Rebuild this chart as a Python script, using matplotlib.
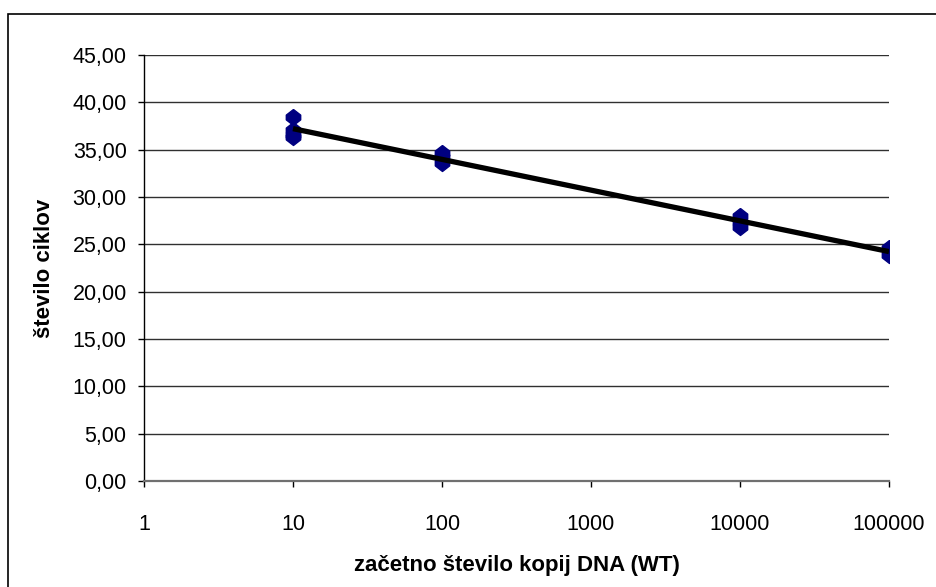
import numpy as np
import matplotlib
matplotlib.use("Agg")
import matplotlib.pyplot as plt
from matplotlib.patches import Rectangle
from matplotlib.ticker import FixedLocator, FuncFormatter

plt.rcParams['font.family'] = ['Liberation Sans', 'DejaVu Sans']

# Starting copy number of DNA (WT) and measured cycle counts (replicates)
copies = [10, 10, 10, 10, 100, 100, 100, 10000, 10000, 10000, 100000, 100000]
cycles = [38.5, 37.1, 36.6, 36.3, 34.7, 34.2, 33.6, 28.0, 27.4, 26.8, 24.6, 23.9]

x_ticks = [1, 10, 100, 1000, 10000, 100000]
y_ticks = [0, 5, 10, 15, 20, 25, 30, 35, 40, 45]

x_label = "začetno število kopij DNA (WT)"
y_label = "število ciklov"

fig = plt.figure(figsize=(9.36, 5.87), dpi=100)
ax = fig.add_axes([144 / 936, 1 - 481 / 587, 745 / 936, 426 / 587])

# Outer chart-area border
fig.patches.append(Rectangle((8 / 936, -0.1), 1.2, 1 - 14 / 587 + 0.1,
                             transform=fig.transFigure, fill=False,
                             edgecolor='black', linewidth=1.2, zorder=0))

# Hexagonal diamond marker
hex_marker = [(0, 1), (0.9, 0.3), (0.9, -0.3), (0, -1), (-0.9, -0.3), (-0.9, 0.3), (0, 1)]
ax.plot(copies, cycles, linestyle='none', marker=hex_marker, markersize=11.5,
        markerfacecolor='#000080', markeredgecolor='#000080', zorder=3)

# Logarithmic trend line
lx = np.log10(np.array(copies, dtype=float))
slope, intercept = np.polyfit(lx, np.array(cycles), 1)
tx = np.array([min(copies), max(copies)], dtype=float)
ax.plot(tx, slope * np.log10(tx) + intercept, color='black', linewidth=3.8,
        solid_capstyle='butt', zorder=4)

ax.set_xscale('log')
ax.set_xlim(1, 100000)
ax.set_ylim(0, 45)
ax.xaxis.set_major_locator(FixedLocator(x_ticks))
ax.xaxis.set_minor_locator(FixedLocator([]))
ax.xaxis.set_major_formatter(FuncFormatter(lambda v, p: f"{int(round(v))}"))
ax.yaxis.set_major_locator(FixedLocator(y_ticks))
ax.yaxis.set_major_formatter(FuncFormatter(lambda v, p: f"{v:.2f}".replace('.', ',')))

ax.grid(axis='y', color='#303030', linewidth=1.0)
ax.set_axisbelow(True)
for s in ('top', 'right'):
    ax.spines[s].set_visible(False)
ax.spines['left'].set_color('black')
ax.spines['left'].set_linewidth(1.0)
ax.spines['bottom'].set_color('#707070')
ax.spines['bottom'].set_linewidth(1.6)

ax.tick_params(axis='y', direction='out', length=4.5, width=1, pad=8,
               labelsize=15.5, colors='black')
ax.tick_params(axis='x', direction='out', length=4, width=1, pad=20,
               labelsize=15.5, colors='black')

ax.set_xlabel(x_label, fontsize=16, fontweight='bold')
ax.xaxis.label.set_va('center')
ax.xaxis.set_label_coords(0.5, (481 - 566) / 426)
ax.set_ylabel(y_label, fontsize=16, fontweight='bold')
ax.yaxis.label.set_va('center')
ax.yaxis.set_label_coords((45 - 144) / 745, 0.5)

fig.savefig("out.png", dpi=100)
